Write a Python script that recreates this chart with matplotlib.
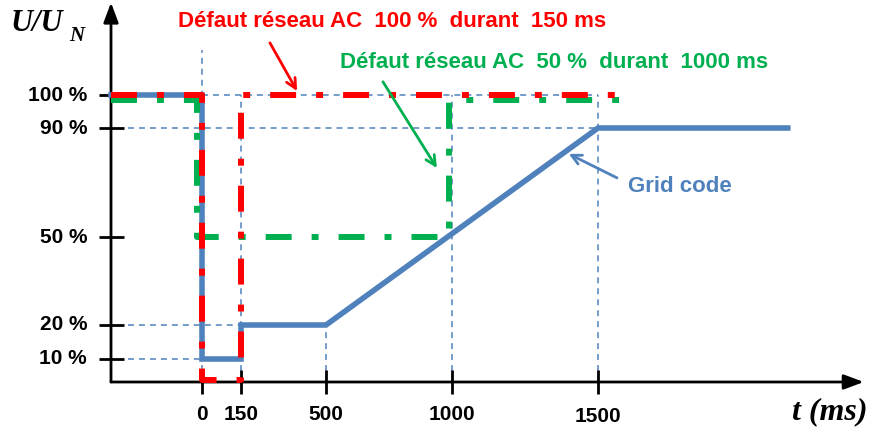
import numpy as np
import matplotlib
matplotlib.use("Agg")
import matplotlib.pyplot as plt

plt.rcParams["lines.scale_dashes"] = False

# ─── DATA ───────────────────────────────────────────────────────────────────────
t_ticks = [0, 150, 500, 1000, 1500]                 # ms
t_labels = ["0", "150", "500", "1000", "1500"]
u_ticks = [10, 20, 50, 90, 100]                      # % of U_N
u_labels = ["10 %", "20 %", "50 %", "90 %", "100 %"]

# grid code requirement
grid_t = [-350, 0, 0, 150, 150, 500, 1500, 2150]
grid_u = [100, 100, 10, 10, 20, 20, 90, 90]

# AC grid fault 100 % during 150 ms
red_t = [-350, 0, 0, 150, 150, 1610]
red_u = [100, 100, 0.8, 0.8, 100, 100]

# AC grid fault 50 % during 1000 ms
green_t = [-350, -20, -20, 990, 990, 1610]
green_u = [98.5, 98.5, 50, 50, 98.5, 98.5]

# ─── SCHEMATIC (NON-LINEAR) SCALES ─────────────────────────────────────────────
T_KNOTS = [-1000, 0, 150, 500, 1000, 1500, 3000]
P_KNOTS = [-260, 0, 39, 124, 250, 396, 834]
U_KNOTS = [-100, 0, 10, 20, 50, 90, 100, 200]
Q_KNOTS = [-230, 0, 23, 57, 145, 254, 287, 617]


def x_fwd(t):
    return np.interp(t, T_KNOTS, P_KNOTS)


def x_inv(p):
    return np.interp(p, P_KNOTS, T_KNOTS)


def y_fwd(u):
    return np.interp(u, U_KNOTS, Q_KNOTS)


def y_inv(q):
    return np.interp(q, Q_KNOTS, U_KNOTS)


BLUE = "#4F81BD"
RED = "#FF0000"
GREEN = "#00B050"
T_AXIS = -350      # where the vertical axis sits
T_END = 2410       # end of the time arrow
U_TOP = 128

fig = plt.figure(figsize=(8.75, 4.28), dpi=100)
ax = fig.add_axes([0, 0, 1, 1])
ax.set_xscale("function", functions=(x_fwd, x_inv))
ax.set_yscale("function", functions=(y_fwd, y_inv))
ax.set_xlim(x_inv(-202), x_inv(673))
ax.set_ylim(y_inv(-46), y_inv(382))
ax.axis("off")

# ─── GUIDE LINES ────────────────────────────────────────────────────────────────
guide = dict(color=BLUE, lw=1.1, dashes=[4.3, 3.6], zorder=1)
ax.plot([0, 1500], [100, 100], **guide)
ax.plot([-285, 1500], [90, 90], **guide)
ax.plot([-285, 150], [20, 20], **guide)
ax.plot([-285, 0], [10, 10], **guide)
ax.plot([0, 0], [0, 113.5], **guide)
ax.plot([150, 150], [0, 100], **guide)
ax.plot([500, 500], [0, 20], **guide)
ax.plot([1000, 1000], [0, 100], **guide)
ax.plot([1500, 1500], [0, 100], **guide)

# ─── AXES WITH ARROWS ──────────────────────────────────────────────────────────
arrow_ax = dict(arrowstyle="-|>,head_length=1.2,head_width=0.45", color="black",
                lw=2, shrinkA=0, shrinkB=0)
ax.annotate("", xy=(T_END, 0), xytext=(T_AXIS, 0), arrowprops=arrow_ax,
            annotation_clip=False, zorder=3)
ax.annotate("", xy=(T_AXIS, U_TOP), xytext=(T_AXIS, 0), arrowprops=arrow_ax,
            annotation_clip=False, zorder=3)
ax.plot(t_ticks, [0] * len(t_ticks), ls="", marker="|", ms=17, mew=2,
        color="black", zorder=3)
ax.plot([T_AXIS] * len(u_ticks), u_ticks, ls="", marker="_", ms=18, mew=2,
        color="black", zorder=3)

# ─── CURVES ─────────────────────────────────────────────────────────────────────
ax.plot(grid_t, grid_u, color=BLUE, lw=4, solid_joinstyle="miter", zorder=4)
dash_dot = [18.7, 14.4, 5, 14.4]
ax.plot(green_t, green_u, color=GREEN, lw=4.3, dashes=dash_dot,
        dash_capstyle="butt", zorder=5)
ax.plot(red_t, red_u, color=RED, lw=4.3, dashes=dash_dot,
        dash_capstyle="butt", zorder=6)

# ─── TICK LABELS ────────────────────────────────────────────────────────────────
lab = dict(family="Liberation Sans", weight="bold", fontsize=15, color="black")
for u, s in zip(u_ticks, u_labels):
    ax.text(x_inv(-115), u, s, ha="right", va="center", **lab)
for t, s in zip(t_ticks, t_labels):
    ax.text(t, y_inv(-32 if t < 1500 else -35), s, ha="center", va="center", **lab)

serif = dict(family="Liberation Serif", weight="bold", style="italic", color="black")
ax.text(0.012, 0.944, "U/U", transform=ax.transAxes, ha="left", va="center",
        fontsize=22, **serif)
ax.text(0.079, 0.916, "N", transform=ax.transAxes, ha="left", va="center",
        fontsize=15, **serif)
ax.text(0.905, 0.037, "t (ms)", transform=ax.transAxes, ha="left", va="center",
        fontsize=23, **serif)

# ─── ANNOTATIONS ────────────────────────────────────────────────────────────────
note = dict(transform=ax.transAxes, ha="left", va="center",
            family="Liberation Sans", weight="bold", fontsize=16)
ax.text(0.2034, 0.9486, "Défaut réseau AC  100 %  durant  150 ms", color=RED, **note)
ax.text(0.3886, 0.855, "Défaut réseau AC  50 %  durant  1000 ms", color=GREEN, **note)
ax.text(0.7177, 0.5654, "Grid code", color=BLUE, **note)

pointer = "->,head_length=0.7,head_width=0.35"
ax.annotate("", xy=(381, 101.2), xytext=(269, 115.8), zorder=7,
            arrowprops=dict(arrowstyle=pointer, color=RED, lw=2, shrinkA=0, shrinkB=0))
ax.annotate("", xy=(940, 75.3), xytext=(726, 104), zorder=7,
            arrowprops=dict(arrowstyle=pointer, color=GREEN, lw=2, shrinkA=0, shrinkB=0))
ax.annotate("", xy=(1400, 80.5), xytext=(1565, 71.7), zorder=7,
            arrowprops=dict(arrowstyle=pointer, color=BLUE, lw=2, shrinkA=0, shrinkB=0))

fig.savefig("out.png", dpi=100)
